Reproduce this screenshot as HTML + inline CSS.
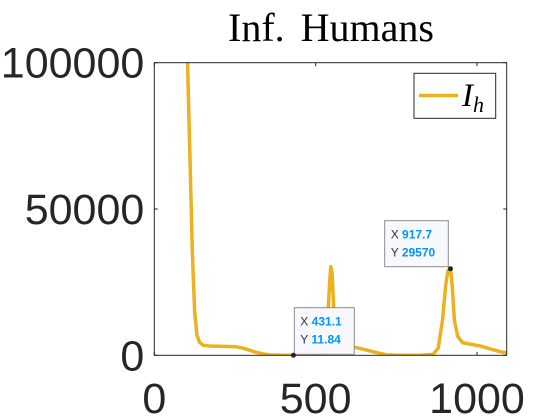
<!DOCTYPE html>
<html><head><meta charset="utf-8"><style>
html,body{margin:0;padding:0;background:#fff;width:560px;height:420px;overflow:hidden}
</style></head><body>
<svg id="chart" width="560" height="420" xmlns="http://www.w3.org/2000/svg">
<text x="331" y="41" text-anchor="middle" font-family="Liberation Serif, serif" font-size="40" word-spacing="6" fill="#000">Inf. Humans</text>
<g id="plot"></g>
</svg>
<script>
const xTicks=[0,500,1000];
const yTicks=[0,50000,100000];
const tX=[103,110,118,125,132,140,150,170,200,230,255,280,310,340,360,400,431.1,480,520,530,538,544,547,551,556,562,570,585,616,650,690,720,760,820,864,880,893,903,910,917.7,923,930,940,956,980,1010,1040,1070,1092];
const iH=[100000,70000,35000,15000,7000,4500,3500,3200,3100,3000,2900,2300,1200,400,150,30,11.84,20,600,3000,14000,26000,30300,28000,16000,6000,3800,3200,2900,2000,900,200,30,20,300,2500,12000,24000,29000,29570,24000,12000,6500,4300,3800,3200,2200,1300,800];
const L=154.3,R=506.7,T=62.7,B=355.3,XMAX=1092,YMAX=100000;
const sx=v=>L+v*(R-L)/XMAX, sy=v=>B-v*(B-T)/YMAX;
const NS="http://www.w3.org/2000/svg";
const g=document.getElementById('plot');
function mk(t,a,p){const e=document.createElementNS(NS,t);for(const k in a)e.setAttribute(k,a[k]);(p||g).appendChild(e);return e;}
const bg=mk('rect',{x:L,y:T,width:R-L,height:B-T,fill:'#fff',stroke:'none'});


const cp=mk('clipPath',{id:'cp'});mk('rect',{x:L,y:T,width:R-L,height:B-T},cp);
let d='';tX.forEach((x,i)=>{d+=(i?'L':'M')+sx(x).toFixed(2)+','+sy(iH[i]).toFixed(2);});
const line=mk('path',{d:d,fill:'none',stroke:'#EDB120','stroke-width':3.5,'stroke-linejoin':'round','clip-path':'url(#cp)'});


const ax=mk('rect',{x:L,y:T,width:R-L,height:B-T,fill:'none',stroke:'#262626','stroke-width':1});


xTicks.forEach(v=>{const x=sx(v);
 mk('line',{x1:x,x2:x,y1:B,y2:B-3.5,stroke:'#262626'});mk('line',{x1:x,x2:x,y1:T,y2:T+3.5,stroke:'#262626'});
 const t=mk('text',{x:x,y:413,'text-anchor':'middle','font-family':'Liberation Sans, sans-serif','font-size':43,fill:'#262626'});t.textContent=v;
 
 });
yTicks.forEach(v=>{const y=sy(v);
 mk('line',{x1:L,x2:L+3.5,y1:y,y2:y,stroke:'#262626'});mk('line',{x1:R,x2:R-3.5,y1:y,y2:y,stroke:'#262626'});
 const t=mk('text',{x:L-10,y:y+15,'text-anchor':'end','font-family':'Liberation Sans, sans-serif','font-size':43,fill:'#262626'});t.textContent=v;
 
 });
// legend
const lg=mk('g',{});


mk('rect',{x:414,y:73.3,width:81.7,height:45,fill:'#fff',stroke:'#262626'},lg);
mk('line',{x1:419,x2:458,y1:95.5,y2:95.5,stroke:'#EDB120','stroke-width':3.5},lg);
const lt=mk('text',{x:462,y:106,'font-family':'Liberation Serif, serif','font-style':'italic','font-size':33,fill:'#000'},lg);
lt.innerHTML='I<tspan font-size="22" dy="6">h</tspan>';
// datatips
function tip(name,xv,yv,bx,by,bw,bh){
 const gg=mk('g',{});
 
 
 mk('rect',{x:bx,y:by,width:bw,height:bh,fill:'#f8f9ff',stroke:'#8c8c8c'},gg);
 const t1=mk('text',{x:bx+6,y:by+18,'font-family':'Liberation Sans, sans-serif','font-size':12,fill:'#333'},gg);
 t1.innerHTML='X <tspan fill="#0095ff" font-weight="bold">'+xv+'</tspan>';
 const t2=mk('text',{x:bx+6,y:by+36,'font-family':'Liberation Sans, sans-serif','font-size':12,fill:'#333'},gg);
 t2.innerHTML='Y <tspan fill="#0095ff" font-weight="bold">'+yv+'</tspan>';
 mk('circle',{cx:sx(xv),cy:sy(yv),r:2.5,fill:'#222'},gg);
}
tip('datatip-trough',431.1,11.84,294.3,307.7,60,46.6);
tip('datatip-peak',917.7,29570,384.7,220.7,63.6,46);
</script>
</body></html>
